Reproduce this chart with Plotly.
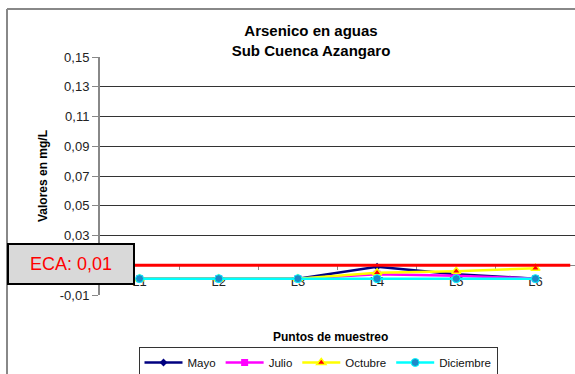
import plotly.graph_objects as go

# ---- data ----
puntos = ["L1", "L2", "L3", "L4", "L5", "L6"]
mayo = [0.001, 0.001, 0.001, 0.009, 0.004, 0.001]
julio = [0.001, 0.001, 0.001, 0.004, 0.003, 0.001]
octubre = [0.001, 0.001, 0.001, 0.005, 0.006, 0.008]
diciembre = [0.001, 0.001, 0.001, 0.001, 0.001, 0.001]
eca = 0.01
eca_label = "ECA: 0,01"
y_tickvals = [-0.01, 0.01, 0.03, 0.05, 0.07, 0.09, 0.11, 0.13, 0.15]
y_ticktext = ["-0,01", "0,01", "0,03", "0,05", "0,07", "0,09", "0,11", "0,13", "0,15"]
y_range = [-0.01, 0.15]

FONT = "Liberation Sans, Arial, sans-serif"
W, H = 575, 374
ML, MR, MT, MB = 100, 0, 57, 79
PW, PH = W - ML - MR, H - MT - MB

def px_x(px):
    return (px - ML) / PW

def px_y(py):
    return 1 - (py - MT) / PH

fig = go.Figure()
fig.add_trace(go.Scatter(x=puntos, y=mayo, name="Mayo", mode="lines+markers",
                         line=dict(color="#000080", width=2.5),
                         marker=dict(symbol="diamond", size=6, color="#000080")))
fig.add_trace(go.Scatter(x=puntos, y=julio, name="Julio", mode="lines+markers",
                         line=dict(color="#FF00FF", width=2.5),
                         marker=dict(symbol="square", size=7, color="#FF00FF")))
fig.add_trace(go.Scatter(x=puntos, y=octubre, name="Octubre", mode="lines+markers",
                         line=dict(color="#FFFF00", width=2.5),
                         marker=dict(symbol="triangle-up", size=8, color="#FF0000",
                                     line=dict(color="#FFFF00", width=1.5))))
fig.add_trace(go.Scatter(x=puntos, y=diciembre, name="Diciembre", mode="lines+markers",
                         line=dict(color="#00FFFF", width=2.5),
                         marker=dict(symbol="circle", size=8, color="#1E88C8",
                                     line=dict(color="#00FFFF", width=1))))

y_pos = (eca - y_range[0]) / (y_range[1] - y_range[0])

fig.update_layout(
    width=W, height=H,
    margin=dict(l=ML, r=MR, t=MT, b=MB, autoexpand=False),
    paper_bgcolor="white", plot_bgcolor="white",
    font=dict(family=FONT, color="#111"),
    title=dict(text="<b>Arsenico en aguas<br>Sub Cuenca Azangaro</b>",
               font=dict(family=FONT, size=15, color="#000"),
               xref="container", x=311 / W, xanchor="center",
               yref="container", y=1 - 36 / H, yanchor="middle"),
    xaxis=dict(type="category", categoryorder="array", categoryarray=puntos,
               range=[-0.5, 5.5], anchor="free", position=y_pos,
               showline=True, linecolor="#888", linewidth=1,
               ticks="outside", tickson="boundaries", ticklen=4, tickcolor="#888",
               tickfont=dict(family=FONT, size=13, color="#222"),
               ticklabelstandoff=4,
               showgrid=False, zeroline=False, layer="below traces"),
    yaxis=dict(range=y_range, tickvals=y_tickvals, ticktext=y_ticktext,
               showgrid=True, gridcolor="#333", gridwidth=1,
               showline=True, linecolor="#888", linewidth=2,
               ticks="outside", ticklen=6, tickcolor="#888",
               tickfont=dict(family=FONT, size=13, color="#222"),
               zeroline=False,
               title=dict(text="<b>Valores en mg/L</b>",
                          font=dict(family=FONT, size=12, color="#000"),
                          standoff=10)),
    legend=dict(orientation="h", x=px_x(318), xanchor="center",
                y=px_y(347), yanchor="top",
                bordercolor="#333", borderwidth=1,
                font=dict(family=FONT, size=11.5, color="#111"),
                itemwidth=38, tracegroupgap=0),
    showlegend=True,
)

# x axis title
fig.add_annotation(text="<b>Puntos de muestreo</b>", xref="paper", yref="paper",
                   x=px_x(330), y=px_y(337), xanchor="center", yanchor="middle",
                   showarrow=False, font=dict(family=FONT, size=12, color="#000"))

# ECA line
fig.add_shape(type="line", xref="x", yref="y", x0=-0.5, x1=5.44, y0=eca, y1=eca,
              line=dict(color="#FF0000", width=3))

# ECA box
fig.add_annotation(text=eca_label, xref="paper", yref="paper",
                   x=px_x(71), y=px_y(264), xanchor="center", yanchor="middle",
                   showarrow=False, width=122, height=36,
                   bgcolor="#D9D9D9", bordercolor="#000", borderwidth=2, borderpad=1,
                   font=dict(family=FONT, size=18, color="#FF0000"))

# outer chart border (left and top)
fig.add_shape(type="line", xref="paper", yref="paper",
              x0=px_x(7), x1=px_x(7), y0=px_y(9), y1=px_y(380),
              line=dict(color="#888", width=2))
fig.add_shape(type="line", xref="paper", yref="paper",
              x0=px_x(7), x1=px_x(580), y0=px_y(9), y1=px_y(9),
              line=dict(color="#888", width=2))

fig.write_html("out.html")
